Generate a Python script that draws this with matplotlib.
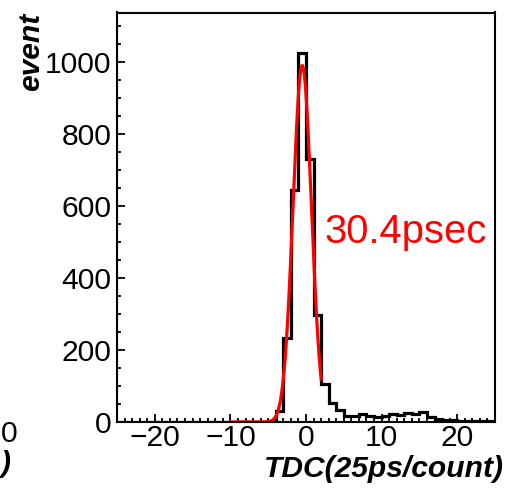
# TDC time resolution histogram with gaussian fit

import numpy as np
import matplotlib.pyplot as plt

plt.rcParams['font.family'] = ['Liberation Sans', 'DejaVu Sans']

# TDC bins, 1 count wide, from -25 to 25
edges = list(range(-25, 26))
counts = [
	0, 0, 0, 0, 0, 0, 0, 0, 0, 0,       # -25 .. -16
	0, 0, 0, 0, 0, 0, 0, 0, 0, 1,       # -15 .. -6
	3, 31, 232, 643, 1024, 730, 296, 105, 53, 33,   # -5 .. 4
	18, 18, 23, 17, 15, 18, 21, 20, 25, 21,         # 5 .. 14
	27, 15, 7, 5, 5, 4, 4, 3, 3, 2,                 # 15 .. 24
]

# gaussian fit result
fit_amp = 990.0
fit_mean = -0.5
sigma_ps = 30.4
ps_per_count = 25.0
fit_range = (-10, 2)

fig = plt.figure(figsize=(5.22, 4.88), dpi=100)
ax = fig.add_axes([117/522, 1 - 422/488, (495 - 117)/522, (422 - 12.5)/488])

ax.stairs(counts, edges, color='black', linewidth=2.3)

sigma = sigma_ps / ps_per_count
xf = np.linspace(fit_range[0], fit_range[1], 400)
yf = fit_amp * np.exp(-0.5 * ((xf - fit_mean) / sigma) ** 2)
ax.plot(xf, yf, color='red', linewidth=2.3)

ax.text(2.4, 497, "%.1fpsec" % sigma_ps, color='red', fontsize=28.8, va='baseline', ha='left')

ax.set_xlim(-25, 25)
ax.set_ylim(0, 1137)
ax.set_xticks([-20, -10, 0, 10, 20])
ax.set_xticks(range(-25, 26), minor=True)
ax.set_yticks([0, 200, 400, 600, 800, 1000])
ax.set_yticks(range(0, 1137, 50), minor=True)
ax.tick_params(which='both', direction='in', top=False, right=False, width=1.3, labelsize=21.6)
ax.tick_params(which='major', length=5.8)
ax.tick_params(which='minor', length=2.9)
ax.tick_params(axis='x', pad=1.5)
ax.tick_params(axis='y', pad=4)
for s in ax.spines.values():
	s.set_linewidth(1.5)

fig.text(31/522, 1 - 13/488, "event", rotation=90, ha='center', va='top',
	fontsize=21.6, fontweight='bold', fontstyle='italic')
fig.text(504/522, 1 - 477/488, "TDC(25ps/count)", ha='right', va='baseline',
	fontsize=21.6, fontweight='bold', fontstyle='italic')

# edge of the neighbouring panel
fig.text(0.5/522, 1 - 434/488, "0", ha='left', va='center', fontsize=21.6)
fig.text(0.5/522, 1 - 472/488, ")", ha='left', va='baseline',
	fontsize=21.6, fontweight='bold', fontstyle='italic')

fig.savefig("out.png", dpi=100)
